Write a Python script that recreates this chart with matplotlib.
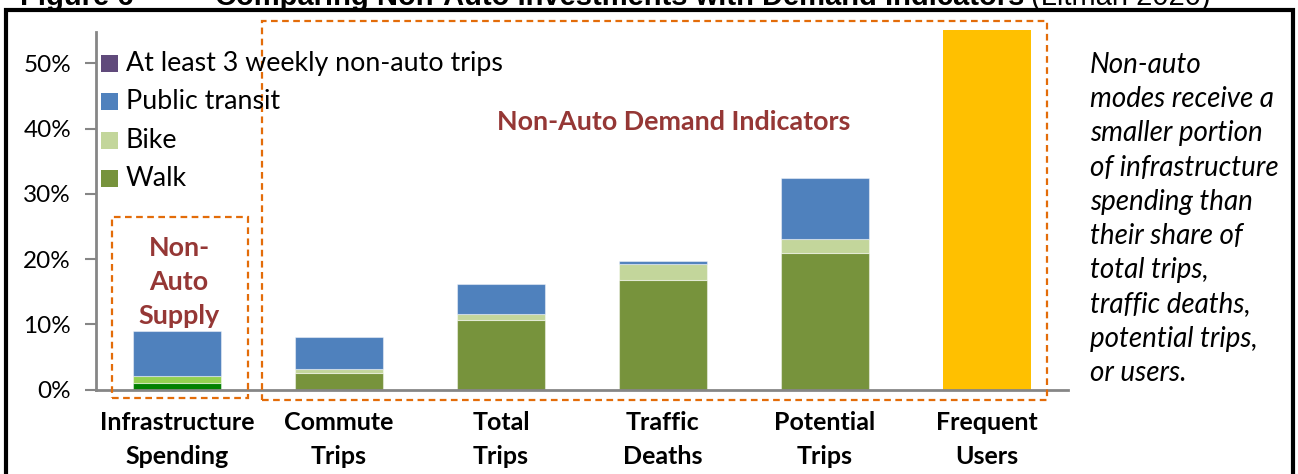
import matplotlib
matplotlib.use("Agg")
import matplotlib.pyplot as plt
from matplotlib.patches import Rectangle
from matplotlib.ticker import FuncFormatter

# ---- data ----
categories = ["Infrastructure\nSpending", "Commute\nTrips", "Total\nTrips",
              "Traffic\nDeaths", "Potential\nTrips", "Frequent\nUsers"]
walk = [1.0, 2.6, 10.6, 16.8, 21.0, 0.0]
bike = [1.1, 0.5, 0.9, 2.4, 2.0, 0.0]
transit = [6.9, 4.9, 4.7, 0.5, 9.4, 0.0]
frequent_users = [0.0, 0.0, 0.0, 0.0, 0.0, 55.1]
yticks = [0, 10, 20, 30, 40, 50]
legend_labels = ["At least 3 weekly non-auto trips", "Public transit", "Bike", "Walk"]
note_lines = ["Non-auto", "modes receive a", "smaller portion", "of infrastructure",
              "spending than", "their share of", "total trips,", "traffic deaths,",
              "potential trips,", "or users."]

# ---- styles ----
C_WALK = "#77933C"
C_BIKE = "#C3D69B"
C_TRANSIT = "#4F81BD"
C_PURPLE = "#604A7B"
C_GOLD = "#FFC000"
C_WALK_SUP = "#008000"
C_BIKE_SUP = "#92D050"
C_ORANGE = "#E36C09"
C_RED = "#953735"
C_GRAY = "#868686"
FONT = "Lato"

W, H = 1298, 474
fig = plt.figure(figsize=(W / 100, H / 100), dpi=100)
fig.patch.set_facecolor("white")

def fx(px):
    return px / W

def fy(py):
    return 1 - py / H

ax = fig.add_axes([fx(96), fy(389.5), fx(1068) - fx(96), fy(32) - fy(389.5)])

x = list(range(len(categories)))
walk_colors = [C_WALK_SUP] + [C_WALK] * (len(x) - 1)
bike_colors = [C_BIKE_SUP] + [C_BIKE] * (len(x) - 1)
edge = (1, 1, 1, 0.45)
bw = 0.54
ax.bar(x, walk, bw, color=walk_colors, edgecolor=edge, linewidth=0.8)
ax.bar(x, bike, bw, bottom=walk, color=bike_colors, edgecolor=edge, linewidth=0.8)
b3 = [w + b for w, b in zip(walk, bike)]
ax.bar(x, transit, bw, bottom=b3, color=C_TRANSIT, edgecolor=edge, linewidth=0.8)
ax.bar(x, frequent_users, bw, color=C_GOLD, edgecolor="none", clip_on=False)

ax.set_xlim(-0.5, len(x) - 0.5)
ax.set_ylim(0, 54.8)
ax.set_yticks(yticks)
ax.yaxis.set_major_formatter(FuncFormatter(lambda v, p: f"{v:.0f}%"))
ax.tick_params(axis="y", direction="out", length=8, width=1.5, color=C_GRAY,
               labelsize=17.5, pad=10)
for lab in ax.get_yticklabels():
    lab.set_fontfamily(FONT)
ax.set_xticks([])
for s in ["top", "right"]:
    ax.spines[s].set_visible(False)
for s in ["left", "bottom"]:
    ax.spines[s].set_color(C_GRAY)
    ax.spines[s].set_linewidth(2)

# x category labels (two lines)
for xi, cat in zip(x, categories):
    l1, l2 = cat.split("\n")
    xp = ax.transData.transform((xi, 0))[0] / W
    fig.text(xp, fy(423), l1, ha="center", va="center", fontsize=18,
             fontweight="bold", family=FONT)
    fig.text(xp, fy(456), l2, ha="center", va="center", fontsize=18,
             fontweight="bold", family=FONT)

# legend (drawn as swatches + labels)
for i, (c, lab) in enumerate(zip([C_PURPLE, C_TRANSIT, C_BIKE, C_WALK], legend_labels)):
    yc = 63 + 38.6 * i
    fig.patches.append(Rectangle((fx(101), fy(yc + 8.5)), fx(118) - fx(101), fy(yc - 8.5) - fy(yc + 8.5),
                                 transform=fig.transFigure, facecolor=c, edgecolor="none"))
    fig.text(fx(125.5), fy(yc), lab, ha="left", va="center", fontsize=19.3, family=FONT)

# dashed boxes
fig.patches.append(Rectangle((fx(112), fy(398)), fx(248) - fx(112), fy(217) - fy(398),
                             transform=fig.transFigure, fill=False, edgecolor=C_ORANGE,
                             linestyle=(0, (3, 2)), linewidth=1.6))
fig.patches.append(Rectangle((fx(262), fy(400)), fx(1047) - fx(262), fy(20.5) - fy(400),
                             transform=fig.transFigure, fill=False, edgecolor=C_ORANGE,
                             linestyle=(0, (3, 2)), linewidth=1.6))

# annotations
fig.text(fx(674), fy(122), "Non-Auto Demand Indicators", ha="center", va="center",
         fontsize=19.4, fontweight="bold", color=C_RED, family=FONT)
for i, t in enumerate(["Non-", "Auto", "Supply"]):
    fig.text(fx(179), fy(248 + 34 * i), t, ha="center", va="center",
             fontsize=19.4, fontweight="bold", color=C_RED, family=FONT)
for i, t in enumerate(note_lines):
    fig.text(fx(1090), fy(65 + 34.2 * i), t, ha="left", va="center",
             fontsize=20, style="italic", family=FONT)

# outer black frame
fig.patches.append(Rectangle((fx(6), fy(H + 20)), fx(1293) - fx(6), fy(10) - fy(H + 20),
                             transform=fig.transFigure, fill=False, edgecolor="black",
                             linewidth=3, clip_on=False))

# clipped figure title (only its lower edge shows, as in the source)
fig.text(fx(20), fy(5), "Figure 6", ha="left", va="baseline",
         fontsize=21, fontweight="bold", family="Liberation Sans")
t2 = fig.text(fx(215), fy(5), "Comparing Non-Auto Investments with Demand Indicators",
              ha="left", va="baseline", fontsize=21, fontweight="bold",
              family="Liberation Sans")
fig.canvas.draw()
r = fig.canvas.get_renderer()
bb = t2.get_window_extent(r)
fig.text(bb.x1 / W + fx(7), fy(5), "(Litman 2020)", ha="left", va="baseline",
         fontsize=21, family="Liberation Sans")

fig.savefig("out.png", dpi=100)
